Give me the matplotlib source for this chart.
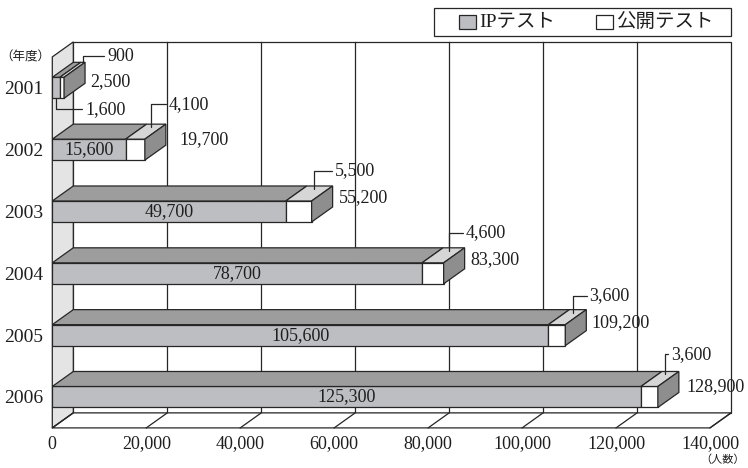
import matplotlib
matplotlib.use("Agg")
import matplotlib.pyplot as plt
from matplotlib.patches import Polygon, Rectangle

plt.rcParams['font.family'] = ['Liberation Serif', 'Noto Sans CJK JP']

# ---- data -------------------------------------------------------------
years = ['2001', '2002', '2003', '2004', '2005', '2006']
ip_test = [1600, 15600, 49700, 78700, 105600, 125300]
public_test = [900, 4100, 5500, 4600, 3600, 3600]
totals = [2500, 19700, 55200, 83300, 109200, 128900]
x_ticks = [0, 20000, 40000, 60000, 80000, 100000, 120000, 140000]
x_tick_labels = ['0', '20,000', '40,000', '60,000', '80,000',
                 '100,000', '120,000', '140,000']
series_names = ['IPテスト', '公開テスト']
year_unit = '（年度）'
count_unit = '（人数）'

# ---- styling ------------------------------------------------------------
LINE = '#262626'
TEXT = '#1e1e1e'
IP_FRONT = '#bdbec2'
IP_TOP = '#9d9d9d'
PUB_FRONT = '#ffffff'
PUB_TOP = '#d6d6d6'
SIDE = '#8e8e8e'
WALL = '#e4e4e4'
LW = 0.9
FS = 13

# label placement (pixel offsets) per year
total_offsets = [(5, 6), (14, 10), (6, 14), (6, 14), (5, 13), (8, 10)]
public_offsets = [(24, 6), (18, 23), (20, 18), (17, 18), (17, 17), (6, 20)]

W, H = 748, 468
fig = plt.figure(figsize=(W / 100, H / 100), dpi=100)
left_px, right_px, top_px, bottom_px = 52.3, 710.0, 56.9, 427.9
ax = fig.add_axes([left_px / W, 1 - bottom_px / H,
                   (right_px - left_px) / W, (bottom_px - top_px) / H])

XMAX = x_ticks[-1]
n = len(years)
Y0, Y1 = -0.5, n - 0.5
ax.set_xlim(0, XMAX)
ax.set_ylim(Y1, Y0)

px_x = (right_px - left_px) / XMAX
px_y = (bottom_px - top_px) / n
DX = 21 / px_x          # oblique depth, horizontal part
DY = -15 / px_y         # oblique depth, vertical part (upwards)
BAR_H = 21 / px_y


def poly(pts, fc, z, ec=LINE):
    ax.add_patch(Polygon(pts, closed=True, facecolor=fc, edgecolor=ec,
                         linewidth=LW, zorder=z, clip_on=False,
                         joinstyle='miter'))


# back wall, left wall and floor
poly([(DX, Y0 + DY), (XMAX + DX, Y0 + DY), (XMAX + DX, Y1 + DY), (DX, Y1 + DY)],
     'white', 0.5)
poly([(0, Y0), (DX, Y0 + DY), (DX, Y1 + DY), (0, Y1)], WALL, 1)
poly([(0, Y1), (XMAX, Y1), (XMAX + DX, Y1 + DY), (DX, Y1 + DY)], 'white', 1)
for t in x_ticks[1:-1]:
    ax.plot([t + DX, t + DX], [Y0 + DY, Y1 + DY], color=LINE, lw=LW,
            zorder=0.8, clip_on=False)
for t in x_ticks:
    ax.plot([t, t + DX], [Y1, Y1 + DY], color=LINE, lw=LW, zorder=1.2,
            clip_on=False)

# bars
leader = dict(arrowstyle='-', connectionstyle='angle,angleA=0,angleB=90,rad=0',
              shrinkA=0, shrinkB=0, lw=LW, color=LINE, relpos=(0, 0.5))
for i, (ip, pub, tot) in enumerate(zip(ip_test, public_test, totals)):
    end = ip + pub
    yt, yb = i - BAR_H / 2, i + BAR_H / 2
    ax.barh(i, ip, left=0, height=BAR_H, color=IP_FRONT, edgecolor=LINE,
            linewidth=LW, zorder=3)
    ax.barh(i, pub, left=ip, height=BAR_H, color=PUB_FRONT, edgecolor=LINE,
            linewidth=LW, zorder=3)
    poly([(0, yt), (ip, yt), (ip + DX, yt + DY), (DX, yt + DY)], IP_TOP, 3)
    poly([(ip, yt), (end, yt), (end + DX, yt + DY), (ip + DX, yt + DY)], PUB_TOP, 3)
    poly([(end, yt), (end + DX, yt + DY), (end + DX, yb + DY), (end, yb)], SIDE, 3)

    # IP value
    if i == 0:
        ax.annotate(f'{ip:,}', xy=(ip / 2, yb), xytext=(29, -11),
                    textcoords='offset pixels', ha='left', va='center',
                    fontsize=FS, color=TEXT, arrowprops=leader, zorder=5)
    else:
        ax.text(ip / 2, i, f'{ip:,}', ha='center', va='center',
                fontsize=FS, color=TEXT, zorder=5)

    # public-test value with leader from the top face
    fx, fy = (1.0, 1.0) if i == 0 else (0.75, 0.8)
    ax.annotate(f'{pub:,}', xy=(ip + pub / 2 + fx * DX, yt + fy * DY),
                xytext=public_offsets[i], textcoords='offset pixels',
                ha='left', va='center', fontsize=FS, color=TEXT,
                arrowprops=leader, zorder=5, annotation_clip=False)

    # total
    ax.annotate(f'{tot:,}', xy=(end + DX, i), xytext=total_offsets[i],
                textcoords='offset pixels', ha='left', va='center',
                fontsize=FS, color=TEXT, zorder=5, annotation_clip=False)

# axes
for s in ax.spines.values():
    s.set_visible(False)
ax.set_xticks(x_ticks, x_tick_labels)
ax.set_yticks(range(n), years)
ax.tick_params(axis='x', length=0, pad=5.5, labelsize=FS, labelcolor=TEXT)
ax.tick_params(axis='y', length=0, pad=6.5, labelsize=FS + 1, labelcolor=TEXT)
ax.patch.set_visible(False)

fig.text(25 / W, 1 - 58 / H, year_unit, ha='center', va='center',
         fontsize=9, color=TEXT)
fig.text(723 / W, 1 - 460 / H, count_unit, ha='center', va='center',
         fontsize=8, color=TEXT)


# legend box drawn in figure pixels
def fpx(x, y):
    return x / W, 1 - y / H


fig.patches.append(Rectangle(fpx(434.3, 36), (731 - 434.3) / W, 27.7 / H,
                             transform=fig.transFigure, facecolor='white',
                             edgecolor=LINE, linewidth=LW))
for (sx, tx), fc, name in zip([(459, 479), (596, 616)], [IP_FRONT, PUB_FRONT],
                              series_names):
    fig.patches.append(Rectangle(fpx(sx, 29), 17 / W, 14 / H,
                                 transform=fig.transFigure, facecolor=fc,
                                 edgecolor=LINE, linewidth=LW))
    fig.text(*fpx(tx, 22), name, ha='left', va='center', fontsize=14,
             color=TEXT)

fig.savefig('out.png', dpi=100)
